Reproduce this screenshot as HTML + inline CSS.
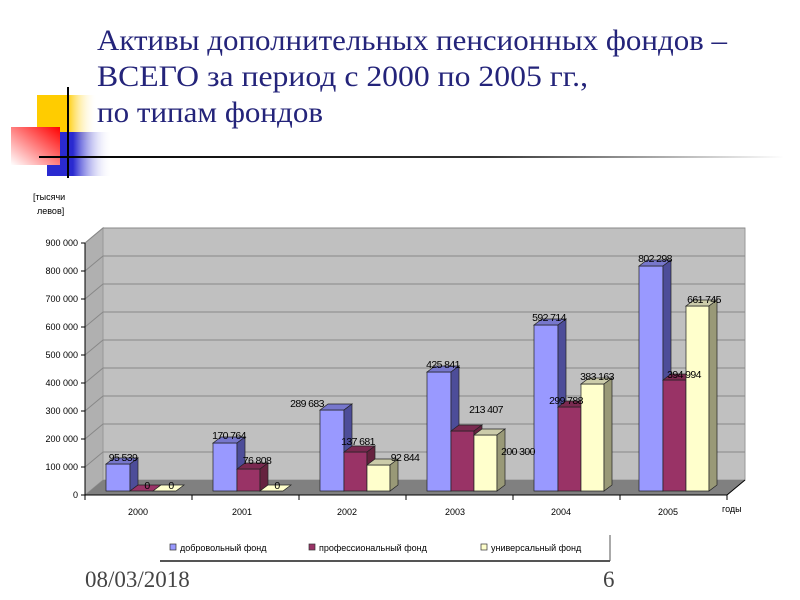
<!DOCTYPE html>
<html><head><meta charset="utf-8"><style>
body{margin:0;background:#fff;width:800px;height:600px;overflow:hidden}
svg{display:block}
.t{font-family:"Liberation Serif","DejaVu Serif",serif;fill:#24247a;font-size:30px}
.s{font-family:"Liberation Sans","DejaVu Sans",sans-serif;font-size:9px;fill:#000}
.l{font-family:"Liberation Sans","DejaVu Sans",sans-serif;font-size:10.5px;fill:#000;text-anchor:middle;letter-spacing:-0.6px}
</style></head><body>
<svg width="800" height="600" viewBox="0 0 800 600">
<defs>
<linearGradient id="yg" x1="0" x2="1"><stop offset="0.5" stop-color="#ffcc00"/><stop offset="1" stop-color="#fff" stop-opacity="0"/></linearGradient>
<linearGradient id="bg" x1="0" x2="1"><stop offset="0.4" stop-color="#2a2ad0"/><stop offset="1" stop-color="#fff" stop-opacity="0"/></linearGradient>
<linearGradient id="rg" x1="1" x2="0" y1="0" y2="1"><stop offset="0" stop-color="#ff0000"/><stop offset="1" stop-color="#fff"/></linearGradient>
<linearGradient id="lg" x1="0" x2="1"><stop offset="0" stop-color="#000"/><stop offset="0.6" stop-color="#333"/><stop offset="1" stop-color="#fff"/></linearGradient>
</defs>
<rect x="37" y="95" width="60" height="45" fill="url(#yg)"/>
<rect x="47" y="132" width="65" height="44" fill="url(#bg)"/>
<rect x="11" y="127" width="49" height="38" fill="url(#rg)"/>
<line x1="68" y1="87" x2="68" y2="178" stroke="#000" stroke-width="2"/>
<rect x="39" y="156" width="745" height="2" fill="url(#lg)"/>
<text class="t" x="97" y="50" textLength="630" lengthAdjust="spacingAndGlyphs">Активы дополнительных пенсионных фондов –</text>
<text class="t" x="97" y="86" textLength="491" lengthAdjust="spacingAndGlyphs">ВСЕГО за период с 2000 по 2005 гг.,</text>
<text class="t" x="97" y="122" textLength="226" lengthAdjust="spacingAndGlyphs">по типам фондов</text>

<text class="s" x="33" y="200">[тысячи</text>
<text class="s" x="37" y="214">левов]</text>

<polygon points="103,228 745,228 745,480 103,480" fill="#c0c0c0" stroke="#999"/>
<polygon points="85,243 103,228 103,480 85,495" fill="#b0b0b0" stroke="#999"/>
<polygon points="85,495 103,480 745,480 727,495" fill="#808080"/>
<g stroke="#888" stroke-width="1">
<polyline points="85,467 103,452 745,452" fill="none"/>
<polyline points="85,439 103,424 745,424" fill="none"/>
<polyline points="85,411 103,396 745,396" fill="none"/>
<polyline points="85,383 103,368 745,368" fill="none"/>
<polyline points="85,355 103,340 745,340" fill="none"/>
<polyline points="85,327 103,312 745,312" fill="none"/>
<polyline points="85,299 103,284 745,284" fill="none"/>
<polyline points="85,271 103,256 745,256" fill="none"/>
<polyline points="85,243 103,228 745,228" fill="none"/>
</g>
<g stroke="#000" stroke-width="1">
<line x1="85" y1="243" x2="85" y2="495"/>
<line x1="85" y1="495" x2="727" y2="495"/>
<line x1="727" y1="495" x2="745" y2="480"/>
<line x1="81" y1="495" x2="85" y2="495"/><line x1="81" y1="467" x2="85" y2="467"/><line x1="81" y1="439" x2="85" y2="439"/><line x1="81" y1="411" x2="85" y2="411"/><line x1="81" y1="383" x2="85" y2="383"/><line x1="81" y1="355" x2="85" y2="355"/><line x1="81" y1="327" x2="85" y2="327"/><line x1="81" y1="299" x2="85" y2="299"/><line x1="81" y1="271" x2="85" y2="271"/><line x1="81" y1="243" x2="85" y2="243"/>
<line x1="85" y1="495" x2="85" y2="500"/><line x1="192" y1="495" x2="192" y2="500"/><line x1="299" y1="495" x2="299" y2="500"/><line x1="406" y1="495" x2="406" y2="500"/><line x1="513" y1="495" x2="513" y2="500"/><line x1="620" y1="495" x2="620" y2="500"/><line x1="727" y1="495" x2="727" y2="500"/>
</g>
<g class="s" text-anchor="end">
<text x="78" y="498">0</text><text x="78" y="470">100 000</text><text x="78" y="442">200 000</text><text x="78" y="414">300 000</text><text x="78" y="386">400 000</text><text x="78" y="358">500 000</text><text x="78" y="330">600 000</text><text x="78" y="302">700 000</text><text x="78" y="274">800 000</text><text x="78" y="246">900 000</text>
</g>
<g class="s" text-anchor="middle">
<text x="138" y="515">2000</text><text x="242" y="515">2001</text><text x="347" y="515">2002</text><text x="455" y="515">2003</text><text x="561" y="515">2004</text><text x="668" y="515">2005</text>
</g>
<text class="s" x="722" y="512">годы</text>

<g stroke="#222" stroke-width="0.7">
<rect x="106" y="464" width="24" height="27" fill="#9999ff"/><polygon points="106,464 114,458 138,458 130,464" fill="#7777cc"/><polygon points="130,464 138,458 138,485 130,491" fill="#4d4d99"/>
<polygon points="130,491 138,485 161,485 153,491" fill="#993366"/>
<polygon points="153,491 161,485 184,485 176,491" fill="#ffffcc"/>
<rect x="213" y="443" width="24" height="48" fill="#9999ff"/><polygon points="213,443 221,437 245,437 237,443" fill="#7777cc"/><polygon points="237,443 245,437 245,485 237,491" fill="#4d4d99"/>
<rect x="237" y="469" width="23" height="22" fill="#993366"/><polygon points="237,469 245,463 268,463 260,469" fill="#7a2950"/><polygon points="260,469 268,463 268,485 260,491" fill="#66223f"/>
<polygon points="260,491 268,485 291,485 283,491" fill="#ffffcc"/>
<rect x="320" y="410" width="24" height="81" fill="#9999ff"/><polygon points="320,410 328,404 352,404 344,410" fill="#7777cc"/><polygon points="344,410 352,404 352,485 344,491" fill="#4d4d99"/>
<rect x="344" y="452" width="23" height="39" fill="#993366"/><polygon points="344,452 352,446 375,446 367,452" fill="#7a2950"/><polygon points="367,452 375,446 375,485 367,491" fill="#66223f"/>
<rect x="367" y="465" width="23" height="26" fill="#ffffcc"/><polygon points="367,465 375,459 398,459 390,465" fill="#ccccaa"/><polygon points="390,465 398,459 398,485 390,491" fill="#999977"/>
<rect x="427" y="372" width="24" height="119" fill="#9999ff"/><polygon points="427,372 435,366 459,366 451,372" fill="#7777cc"/><polygon points="451,372 459,366 459,485 451,491" fill="#4d4d99"/>
<rect x="451" y="431" width="23" height="60" fill="#993366"/><polygon points="451,431 459,425 482,425 474,431" fill="#7a2950"/><polygon points="474,431 482,425 482,485 474,491" fill="#66223f"/>
<rect x="474" y="435" width="23" height="56" fill="#ffffcc"/><polygon points="474,435 482,429 505,429 497,435" fill="#ccccaa"/><polygon points="497,435 505,429 505,485 497,491" fill="#999977"/>
<rect x="534" y="325" width="24" height="166" fill="#9999ff"/><polygon points="534,325 542,319 566,319 558,325" fill="#7777cc"/><polygon points="558,325 566,319 566,485 558,491" fill="#4d4d99"/>
<rect x="558" y="407" width="23" height="84" fill="#993366"/><polygon points="558,407 566,401 589,401 581,407" fill="#7a2950"/><polygon points="581,407 589,401 589,485 581,491" fill="#66223f"/>
<rect x="581" y="384" width="23" height="107" fill="#ffffcc"/><polygon points="581,384 589,378 612,378 604,384" fill="#ccccaa"/><polygon points="604,384 612,378 612,485 604,491" fill="#999977"/>
<rect x="639" y="266" width="24" height="225" fill="#9999ff"/><polygon points="639,266 647,260 671,260 663,266" fill="#7777cc"/><polygon points="663,266 671,260 671,485 663,491" fill="#4d4d99"/>
<rect x="663" y="380" width="23" height="111" fill="#993366"/><polygon points="663,380 671,374 694,374 686,380" fill="#7a2950"/><polygon points="686,380 694,374 694,485 686,491" fill="#66223f"/>
<rect x="686" y="306" width="23" height="185" fill="#ffffcc"/><polygon points="686,306 694,300 717,300 709,306" fill="#ccccaa"/><polygon points="709,306 717,300 717,485 709,491" fill="#999977"/>
</g>
<g class="l">
<text x="123" y="461">95 539</text><text x="147" y="489">0</text><text x="171" y="489">0</text>
<text x="229" y="439">170 764</text><text x="257" y="464">76 808</text><text x="277" y="489">0</text>
<text x="307" y="407">289 683</text><text x="358" y="445">137 681</text><text x="405" y="461">92 844</text>
<text x="443" y="368">425 841</text><text x="486" y="413">213 407</text><text x="518" y="455">200 300</text>
<text x="549" y="321">592 714</text><text x="566" y="404">299 788</text><text x="597" y="380">383 163</text>
<text x="655" y="262">802 298</text><text x="684" y="378">394 994</text><text x="704" y="303">661 745</text>
</g>

<rect x="160" y="535" width="450" height="25" fill="#fff"/>
<line x1="610" y1="535" x2="610" y2="561" stroke="#555"/>
<line x1="160" y1="561" x2="610" y2="561" stroke="#555" stroke-width="2"/>
<rect x="170" y="544" width="6" height="6" fill="#9999ff" stroke="#333" stroke-width="0.7"/>
<text class="s" x="180" y="551">добровольный фонд</text>
<rect x="309" y="544" width="6" height="6" fill="#993366" stroke="#333" stroke-width="0.7"/>
<text class="s" x="319" y="551">професcиональный фонд</text>
<rect x="481" y="544" width="6" height="6" fill="#ffffcc" stroke="#333" stroke-width="0.7"/>
<text class="s" x="491" y="551">универсальный фонд</text>

<text x="85" y="587" style="font-family:'Liberation Serif',serif;font-size:23px;fill:#444">08/03/2018</text>
<text x="603" y="587" style="font-family:'Liberation Serif',serif;font-size:23px;fill:#444">6</text>
</svg>
</body></html>
